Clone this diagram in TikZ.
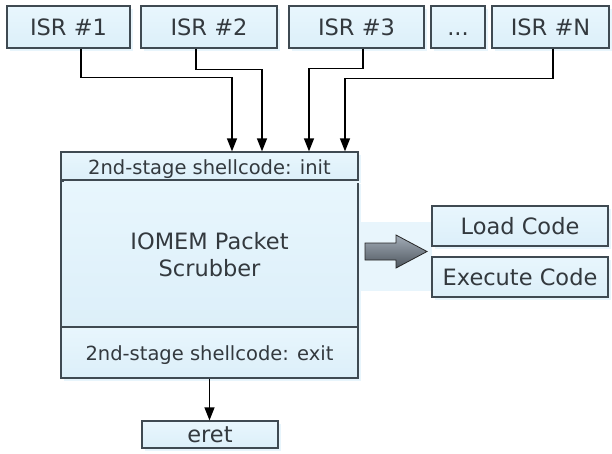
\documentclass[tikz,border=0pt]{standalone}
\usepackage{fontspec}
\setmainfont{DejaVu Sans}
\usetikzlibrary{arrows.meta,shadows}
\definecolor{boxtop}{HTML}{E8F6FD}
\definecolor{boxbot}{HTML}{DCEFF9}
\definecolor{boxline}{HTML}{3F4A52}
\definecolor{txt}{HTML}{33393E}
\definecolor{glowc}{HTML}{E8F5FC}
\definecolor{fattop}{HTML}{A3ADB8}
\definecolor{fatbot}{HTML}{4E565E}
\tikzset{
  blk/.style={draw=boxline, line width=1.2pt, top color=boxtop, bottom color=boxbot,
    inner sep=0pt, text=txt, font=\fontsize{22.5}{26.7}\selectfont,
    text height=16.8pt, text depth=0pt,
    drop shadow={shadow xshift=2.5pt, shadow yshift=-2.5pt, fill=glowc, opacity=1}},
  smalltxt/.style={font=\fontsize{19.5}{23}\selectfont, text height=16.4pt, text depth=0pt},
  conn/.style={draw=black, line width=1.2pt, -{Triangle[width=10pt,length=13pt]}},
  fatarrow/.style={draw=black!85, line width=0.8pt, top color=fattop, bottom color=fatbot, line join=miter},
}
\begin{document}
\begin{tikzpicture}[x=1pt,y=-1pt]
\useasboundingbox (0,0) rectangle (612,453);
% ISR boxes
\node[blk, minimum width=123pt, minimum height=42pt] (isr1) at (68.5,27) {ISR \#1};
\node[blk, minimum width=136pt, minimum height=42pt] (isr2) at (209,27) {ISR \#2};
\node[blk, minimum width=135pt, minimum height=42pt] (isr3) at (356.5,27) {ISR \#3};
\node[blk, minimum width=54pt, minimum height=42pt] (dots) at (458,27) {...};
\node[blk, minimum width=117pt, minimum height=42pt] (isrn) at (550.5,27) {ISR \#N};
% glow behind arrow
\fill[glowc] (360,222) rectangle (432,291);
% main box
\node[blk, minimum width=297pt, minimum height=147pt, align=center, text height=, text depth=] (mid) at (209.5,254.5) {IOMEM Packet\\Scrubber};
\node[blk, smalltxt, minimum width=297pt, minimum height=28pt] (init) at (209.5,166) {2nd-stage shellcode: init};
\node[blk, smalltxt, minimum width=297pt, minimum height=51pt] (exit) at (209.5,352.5) {2nd-stage shellcode: exit};
% right boxes
\node[blk, minimum width=176pt, minimum height=40pt] (load) at (520,226) {Load Code};
\node[blk, minimum width=176pt, minimum height=40pt] (exec) at (520,277) {Execute Code};
% fat arrow
\path[fatarrow] (365,243) -- (396,243) -- (396,235) -- (427,251.5) -- (396,268) -- (396,260) -- (365,260) -- cycle;
% eret
\node[blk, minimum width=136pt, minimum height=27pt] (eret) at (210,434.5) {eret};
% connectors
\draw[conn] ([xshift=12.5pt]isr1.south) -- ++(0,29) -| ([xshift=22.5pt]init.north);
\draw[conn] ([xshift=-13pt]isr2.south) -- ++(0,21) -| ([xshift=52.5pt]init.north);
\draw[conn] ([xshift=6.5pt]isr3.south) -- ++(0,20) -| ([xshift=99.5pt]init.north);
\draw[conn] ([xshift=2.5pt]isrn.south) -- ++(0,30) -| ([xshift=135.5pt]init.north);
\draw[conn] (exit.south) -- (exit.south |- eret.north);
\end{tikzpicture}
\end{document}
